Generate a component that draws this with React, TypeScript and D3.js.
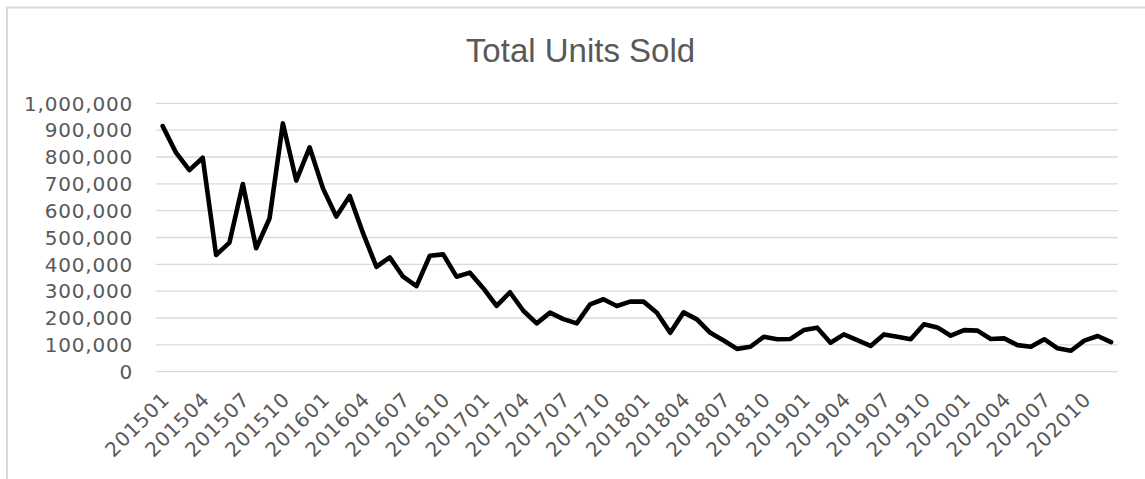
import React from "react";
import * as d3 from "d3";

const TITLE = "Total Units Sold";

const months: string[] = [];
for (let y = 2015; y <= 2020; y++) {
  for (let m = 1; m <= 12; m++) months.push(`${y}${String(m).padStart(2, "0")}`);
}

const unitsSold: number[] = [
  915000, 816000, 751000, 797000, 435000, 481000, 699000, 460000, 571000, 925000, 712000, 836000,
  683000, 578000, 655000, 516000, 391000, 426000, 354000, 319000, 432000, 437000, 354000, 369000,
  311000, 245000, 296000, 227000, 180000, 220000, 196000, 180000, 251000, 270000, 245000, 261000,
  261000, 220000, 145000, 221000, 195000, 145000, 116000, 85000, 93000, 130000, 121000, 122000,
  155000, 164000, 108000, 139000, 118000, 96000, 139000, 130000, 121000, 177000, 165000, 134000,
  155000, 153000, 122000, 124000, 99000, 93000, 121000, 87000, 78000, 116000, 133000, 110000,
];

const yTicks: number[] = [0, 100000, 200000, 300000, 400000, 500000, 600000, 700000, 800000, 900000, 1000000];

const W = 1145;
const H = 479;
const plotLeft = 156;
const plotRight = 1117.7;
const plotTop = 103.3;
const plotBottom = 371.7;

export default function App() {
  const x = d3
    .scaleBand<string>()
    .domain(months)
    .range([plotLeft, plotRight])
    .padding(0);
  const y = d3.scaleLinear().domain([0, 1000000]).range([plotBottom, plotTop]);
  const cx = (m: string) => (x(m) as number) + x.bandwidth() / 2;
  const line = d3
    .line<number>()
    .x((_, i) => cx(months[i]))
    .y((d) => y(d));
  const fmt = d3.format(",");
  const labelMonths = months.filter((_, i) => i % 3 === 0);
  const fontFam = "'DejaVu Sans', 'Liberation Sans', sans-serif";

  return (
    <svg
      width={W}
      height={H}
      style={{ position: "absolute", left: 0, top: 0, background: "#fff" }}
    >
      <rect x={7} y={7.5} width={W + 10} height={H + 10} fill="#fff" stroke="#d9d9d9" strokeWidth={2} />
      <text
        x={580.5}
        y={61.5}
        textAnchor="middle"
        fontFamily="'Liberation Sans', Arial, sans-serif"
        fontSize={33}
        fill="#595959"
      >
        {TITLE}
      </text>
      {yTicks.map((t) => (
        <g key={t}>
          <line x1={plotLeft} x2={plotRight} y1={y(t)} y2={y(t)} stroke="#d9d9d9" strokeWidth={1.3} />
          <text
            x={133}
            y={y(t)}
            dy="0.36em"
            textAnchor="end"
            fontFamily={fontFam}
            fontSize={20}
            letterSpacing={0.8}
            fill="#595959"
          >
            {fmt(t)}
          </text>
        </g>
      ))}
      {labelMonths.map((m) => {
        const ax = cx(m) + 3;
        const ay = plotBottom + 24;
        return (
          <text
            key={m}
            transform={`translate(${ax},${ay}) rotate(-45)`}
            textAnchor="end"
            dy="0.36em"
            fontFamily={fontFam}
            fontSize={20}
            letterSpacing={0.8}
            fill="#595959"
          >
            {m}
          </text>
        );
      })}
      <path
        d={line(unitsSold) || ""}
        fill="none"
        stroke="#000"
        strokeWidth={4.6}
        strokeLinejoin="round"
        strokeLinecap="round"
      />
    </svg>
  );
}
